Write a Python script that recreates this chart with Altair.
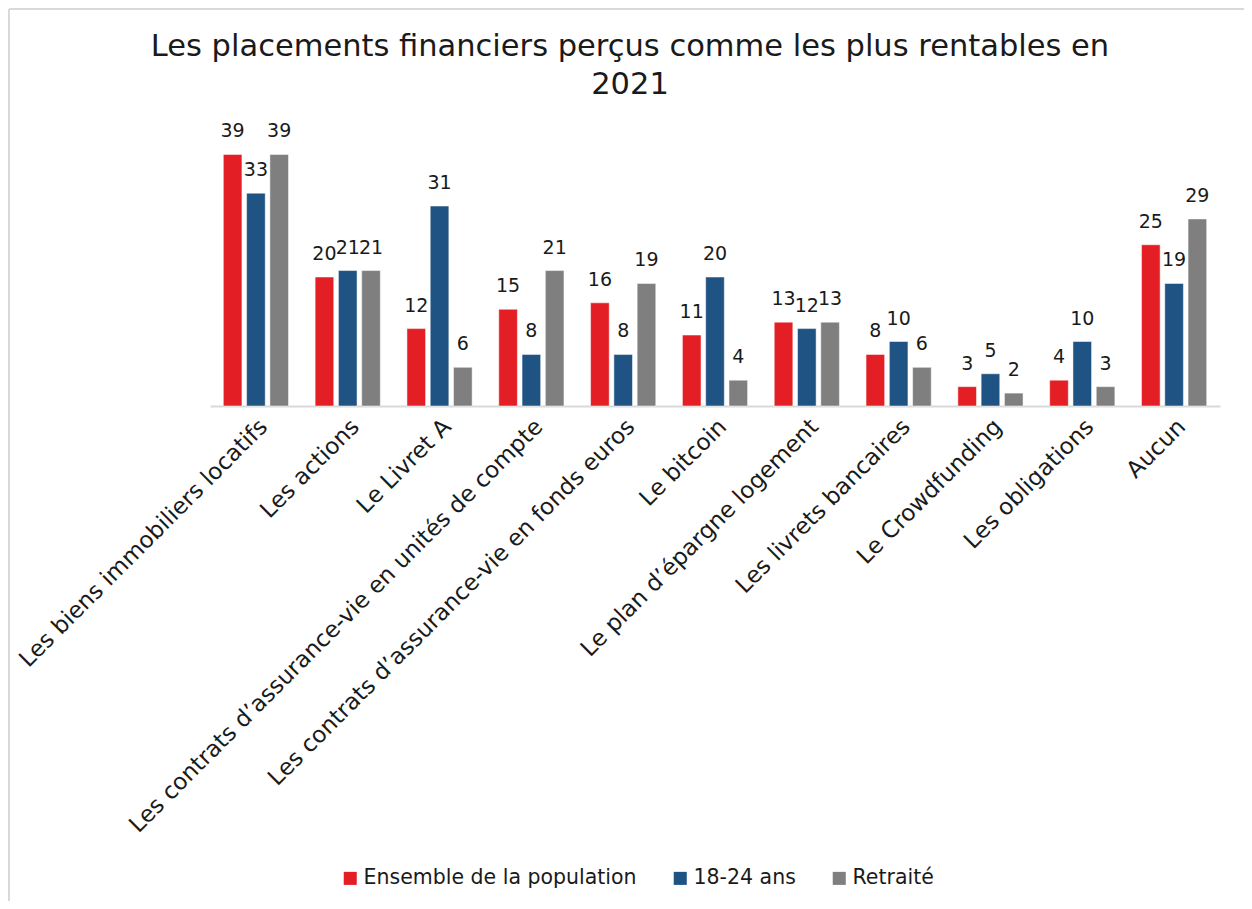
import altair as alt
import pandas as pd

categories = [
    "Les biens immobiliers locatifs",
    "Les actions",
    "Le Livret A",
    "Les contrats d’assurance-vie en unités de compte",
    "Les contrats d’assurance-vie en fonds euros",
    "Le bitcoin",
    "Le plan d’épargne logement",
    "Les livrets bancaires",
    "Le Crowdfunding",
    "Les obligations",
    "Aucun",
]
series = ["Ensemble de la population", "18-24 ans", "Retraité"]
ensemble = [39, 20, 12, 15, 16, 11, 13, 8, 3, 4, 25]
jeunes = [33, 21, 31, 8, 8, 20, 12, 10, 5, 10, 19]
retraite = [39, 21, 6, 21, 19, 4, 13, 6, 2, 3, 29]
colors = ["#E31E24", "#1F5384", "#7F7F7F"]

rows = []
for vals, s in zip([ensemble, jeunes, retraite], series):
    for c, v in zip(categories, vals):
        rows.append({"cat": c, "serie": s, "val": v})
df = pd.DataFrame(rows)

FONT = "DejaVu Sans"
W, H = 1010, 258
PL, PT = 202, 140

x = alt.X("cat:N", sort=categories, title=None,
          scale=alt.Scale(paddingInner=0.29, paddingOuter=0.145),
          axis=alt.Axis(labelAngle=-45, labelFontSize=23, labelColor="#1a1a1a",
                        labelFont=FONT, ticks=False, domainColor="#d9d9d9",
                        domainWidth=2, labelPadding=9, labelLimit=0))
xo = alt.XOffset("serie:N", sort=series,
                 scale=alt.Scale(paddingInner=0.2, paddingOuter=0))
y = alt.Y("val:Q", scale=alt.Scale(domain=[0, 40], nice=False), axis=None)
color = alt.Color("serie:N", sort=series,
                  scale=alt.Scale(domain=series, range=colors),
                  legend=alt.Legend(title=None, orient="none", direction="horizontal",
                                    legendX=130, legendY=720, symbolType="square",
                                    symbolSize=170, symbolStrokeWidth=0,
                                    labelFontSize=20.5, labelFont=FONT,
                                    labelColor="#1a1a1a", columnPadding=33,
                                    labelOffset=3, labelLimit=0))

base = alt.Chart(df)
bars = base.mark_bar(stroke="white", strokeWidth=0.5).encode(x=x, xOffset=xo, y=y, color=color)
labels = base.mark_text(dy=-23, fontSize=19, font=FONT, color="#1a1a1a").encode(
    x=x, xOffset=xo, y=y, text="val:Q")

frame_top = alt.Chart(pd.DataFrame({"a": [0]})).mark_rule(color="#d9d9d9", strokeWidth=2).encode(
    x=alt.value(-PL + 1), x2=alt.value(W + 40), y=alt.value(-PT + 1))
frame_left = alt.Chart(pd.DataFrame({"a": [0]})).mark_rule(color="#d9d9d9", strokeWidth=2).encode(
    x=alt.value(-PL + 1), y=alt.value(-PT + 1), y2=alt.value(H + 510))

chart = alt.layer(bars, labels, frame_top, frame_left).properties(
    width=W, height=H,
    title=alt.Title(["Les placements financiers perçus comme les plus rentables en", "2021"],
                    fontSize=30.5, font=FONT, fontWeight="normal", color="#1a1a1a",
                    anchor="middle", dx=-85, offset=-92, lineHeight=38),
    autosize=alt.AutoSizeParams(type="none"),
    padding={"left": PL, "top": PT, "right": 1252 - 16 - PL - W, "bottom": 909 - 16 - PT - H},
).configure_view(stroke=None)

chart.save("out.html", embed_options={"renderer": "svg", "actions": False})
